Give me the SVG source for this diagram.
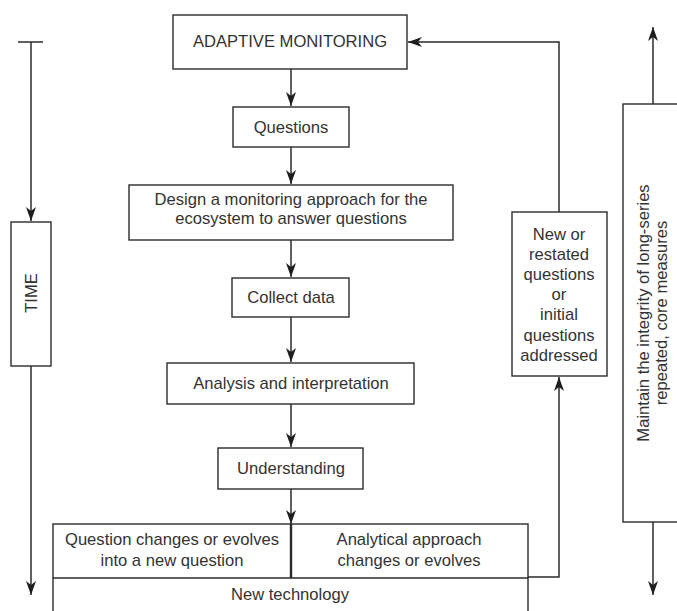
<svg xmlns="http://www.w3.org/2000/svg" width="677" height="611" viewBox="0 0 677 611">
<style>
.box{fill:#fff;stroke:#2b2b2b;stroke-width:1.4}
.ln{fill:none;stroke:#2b2b2b;stroke-width:1.5}
text{font-family:"Liberation Sans",Arial,sans-serif;font-size:16.6px;fill:#333;text-anchor:middle}
</style>
<defs>
<marker id="ah" markerUnits="userSpaceOnUse" markerWidth="15" markerHeight="11" refX="14" refY="5" orient="auto">
<path d="M0,0 L14,5 L0,10 L4,5 z" fill="#1e1e1e"/>
</marker>
</defs>
<rect width="677" height="611" fill="#fff"/>

<g id="connectors">
<line class="ln" x1="18" y1="42" x2="43" y2="42"/>
<line class="ln" x1="31" y1="42" x2="31" y2="221" marker-end="url(#ah)"/>
<line class="ln" x1="31" y1="366" x2="31" y2="595" marker-end="url(#ah)"/>
<path class="ln" d="M559,212 V42 H408" marker-end="url(#ah)"/>
<line class="ln" x1="291" y1="69" x2="291" y2="106" marker-end="url(#ah)"/>
<line class="ln" x1="291" y1="147" x2="291" y2="184" marker-end="url(#ah)"/>
<line class="ln" x1="291" y1="240" x2="291" y2="277" marker-end="url(#ah)"/>
<line class="ln" x1="291" y1="317" x2="291" y2="362" marker-end="url(#ah)"/>
<line class="ln" x1="291" y1="404" x2="291" y2="447" marker-end="url(#ah)"/>
<line class="ln" x1="291" y1="489" x2="291" y2="524" marker-end="url(#ah)"/>
<path class="ln" d="M521,577 H559 V377" marker-end="url(#ah)"/>
<line class="ln" x1="653" y1="104" x2="653" y2="27" marker-end="url(#ah)"/>
<line class="ln" x1="653" y1="522" x2="653" y2="595" marker-end="url(#ah)"/>
</g>

<g id="time">
<rect class="box" x="11" y="222" width="40" height="144"/>
<text transform="translate(37,293) rotate(-90)">TIME</text>
</g>

<g id="adaptive">
<rect class="box" x="173" y="15" width="234" height="54"/>
<text x="290" y="47">ADAPTIVE MONITORING</text>
</g>

<g id="questions">
<rect class="box" x="233" y="107" width="116" height="40"/>
<text x="291" y="133">Questions</text>
</g>

<g id="design">
<rect class="box" x="129" y="185" width="324" height="55"/>
<text x="291" y="205">Design a monitoring approach for the</text>
<text x="291" y="224">ecosystem to answer questions</text>
</g>

<g id="collect">
<rect class="box" x="232" y="278" width="117" height="39"/>
<text x="291" y="303">Collect data</text>
</g>

<g id="analysis">
<rect class="box" x="167" y="363" width="247" height="41"/>
<text x="291" y="389">Analysis and interpretation</text>
</g>

<g id="understanding">
<rect class="box" x="218" y="448" width="145" height="41"/>
<text x="291" y="474">Understanding</text>
</g>

<g id="changes">
<rect class="box" x="53" y="524" width="475" height="100"/>
<line class="ln" x1="53" y1="578" x2="528" y2="578"/>
<line class="ln" x1="291" y1="524" x2="291" y2="578" style="stroke-width:2.4"/>
<text x="172" y="545">Question changes or evolves</text>
<text x="172" y="566">into a new question</text>
<text x="409" y="545">Analytical approach</text>
<text x="409" y="566">changes or evolves</text>
<text x="290" y="600">New technology</text>
</g>

<g id="restated">
<rect class="box" x="512" y="212" width="95" height="164"/>
<text x="559" y="240">New or</text>
<text x="559" y="260">restated</text>
<text x="559" y="280">questions</text>
<text x="559" y="300">or</text>
<text x="559" y="320">initial</text>
<text x="559" y="341">questions</text>
<text x="559" y="361">addressed</text>
</g>

<g id="maintain">
<rect class="box" x="623" y="104" width="70" height="418"/>
<text transform="translate(649,313) rotate(-90)">Maintain the integrity of long-series</text>
<text transform="translate(667,313) rotate(-90)">repeated, core measures</text>
</g>
</svg>
